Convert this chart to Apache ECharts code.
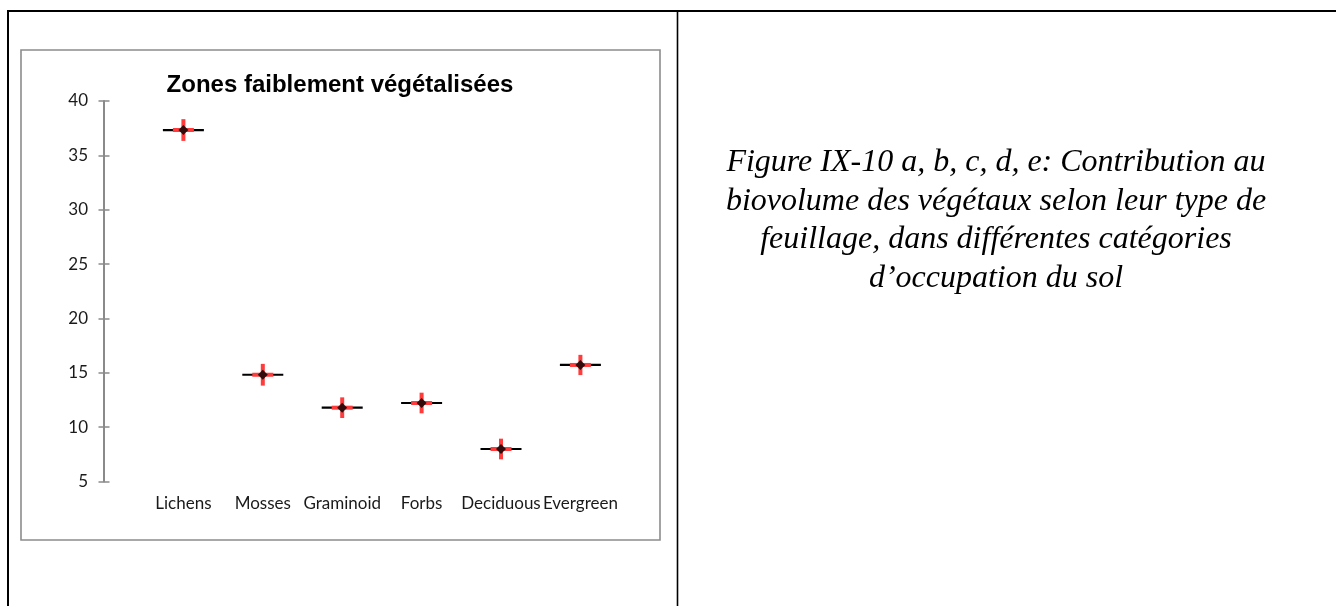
<!DOCTYPE html>
<html>
<head>
<meta charset="utf-8">
<script src="https://cdn.jsdelivr.net/npm/echarts@6/dist/echarts.min.js"></script>
<style>
html,body{margin:0;padding:0;background:#fff;}
#main{width:1336px;height:606px;}
</style>
</head>
<body>
<div id="main"></div>
<script>
// data
const categories=['Lichens','Mosses','Graminoid','Forbs','Deciduous','Evergreen']
const means=[37.33,14.82,11.79,12.22,7.99,15.72]
const errors=[1.0,1.0,0.95,0.95,0.95,0.93]
const yTicks=[5,10,15,20,25,30,35,40]
const titleText='Zones faiblement végétalisées'
const captionLines=[
    'Figure IX-10 a, b, c, d, e: Contribution au',
    'biovolume des végétaux selon leur type de',
    'feuillage, dans différentes catégories',
    'd’occupation du sol'
]

const chart=echarts.init(document.getElementById('main'))

// first slot left empty so the points start one step right of the y axis
const axisCats=[''].concat(categories)
const pointData=categories.map((c,i)=>[c,means[i],errors[i]])

const labelFont='Lato'
const yMin=yTicks[0]
const yMax=yTicks[yTicks.length-1]
const yStep=yTicks[1]-yTicks[0]

const option={
    animation:false,
    backgroundColor:'#fff',
    grid:{
        left:104,
        top:101,
        width:476.4,
        height:380.5
    },
    xAxis:{
        type:'category',
        data:axisCats,
        boundaryGap:false,
        axisLine:{show:false},
        axisTick:{show:false},
        splitLine:{show:false},
        axisLabel:{
            interval:0,
            margin:14,
            color:'#1a1a1a',
            fontFamily:labelFont,
            fontSize:17
        }
    },
    yAxis:[
        {
            type:'value',
            min:yMin,
            max:yMax,
            interval:yStep,
            position:'left',
            splitLine:{show:false},
            axisLine:{show:true,lineStyle:{color:'#8a8a8a',width:2}},
            axisTick:{show:true,inside:false,length:5.5,lineStyle:{color:'#8a8a8a',width:1.5}},
            axisLabel:{
                margin:16,
                color:'#1a1a1a',
                fontFamily:labelFont,
                fontSize:17
            }
        },
        {
            // right half of the crossing ticks: same scale, shifted into the plot
            type:'value',
            min:yMin,
            max:yMax,
            interval:yStep,
            position:'left',
            offset:-5.5,
            splitLine:{show:false},
            axisLine:{show:false},
            axisTick:{show:true,inside:false,length:5.5,lineStyle:{color:'#8a8a8a',width:1.5}},
            axisLabel:{show:false}
        }
    ],
    series:[
        {
            type:'custom',
            clip:false,
            data:pointData,
            renderItem:(params,api)=>{
                const c=api.coord([api.value(0),api.value(1)])
                const hi=api.coord([api.value(0),api.value(1)+api.value(2)])
                const lo=api.coord([api.value(0),api.value(1)-api.value(2)])
                return {
                    type:'group',
                    children:[
                        {type:'line',shape:{x1:c[0]-20.5,y1:c[1],x2:c[0]+20.5,y2:c[1]},style:{stroke:'#000',lineWidth:2.2}},
                        {type:'line',shape:{x1:c[0]-10.5,y1:c[1],x2:c[0]+10.5,y2:c[1]},style:{stroke:'#ff3b3b',lineWidth:4}},
                        {type:'line',shape:{x1:c[0],y1:hi[1],x2:c[0],y2:lo[1]},style:{stroke:'#ff3b3b',lineWidth:4}}
                    ]
                }
            }
        },
        {
            type:'scatter',
            data:categories.map((c,i)=>[c,means[i]]),
            symbol:'diamond',
            symbolSize:[10,10],
            itemStyle:{color:'#000'},
            z:5
        }
    ],
    graphic:[
        // page frame
        {type:'line',shape:{x1:7,y1:11,x2:1336,y2:11},style:{stroke:'#000',lineWidth:2}},
        {type:'line',shape:{x1:8,y1:10,x2:8,y2:606},style:{stroke:'#000',lineWidth:2}},
        {type:'line',shape:{x1:677.5,y1:10,x2:677.5,y2:606},style:{stroke:'#000',lineWidth:1.6}},
        // chart box
        {type:'rect',shape:{x:21,y:50,width:639,height:490},style:{fill:null,stroke:'#8c8c8c',lineWidth:1.6},z:-1},
        {
            type:'text',
            x:340,
            y:85,
            style:{
                text:titleText,
                fontFamily:'Liberation Sans',
                fontWeight:'bold',
                fontSize:24,
                fill:'#000',
                align:'center',
                verticalAlign:'middle'
            }
        },
        {
            type:'text',
            x:996,
            y:143.5,
            style:{
                text:captionLines.join('\n'),
                fontFamily:'Liberation Serif',
                fontStyle:'italic',
                fontSize:32,
                lineHeight:38.5,
                fill:'#000',
                align:'center',
                verticalAlign:'top'
            }
        }
    ]
}
chart.setOption(option)
</script>
</body>
</html>
